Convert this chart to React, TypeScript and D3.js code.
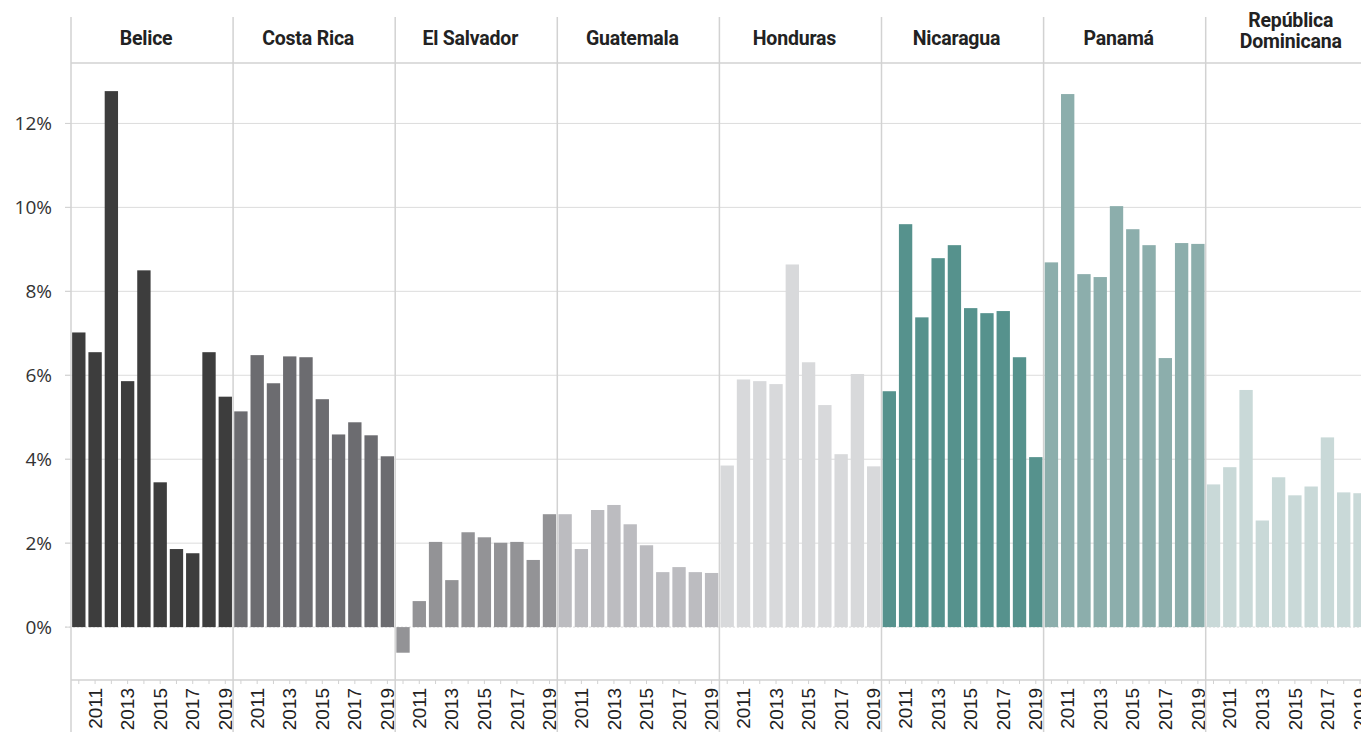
import React from "react";
import * as d3 from "d3";

const countries = ["Belice", "Costa Rica", "El Salvador", "Guatemala", "Honduras", "Nicaragua", "Panamá", "República Dominicana"];
const years = [2010, 2011, 2012, 2013, 2014, 2015, 2016, 2017, 2018, 2019];
const yearLabels = [2011, 2013, 2015, 2017, 2019];
const yTicks = [0, 2, 4, 6, 8, 10, 12];
const colors = ["#3d3d3d", "#6c6c70", "#939396", "#bcbcc0", "#d8d9db", "#56928d", "#8caeac", "#c9d9d8"];

const belice = [7.02, 6.55, 12.77, 5.86, 8.5, 3.45, 1.86, 1.76, 6.55, 5.49];
const costaRica = [5.14, 6.48, 5.81, 6.45, 6.43, 5.43, 4.59, 4.88, 4.57, 4.07];
const elSalvador = [-0.61, 0.62, 2.03, 1.12, 2.26, 2.14, 2.01, 2.03, 1.6, 2.69];
const guatemala = [2.69, 1.86, 2.79, 2.91, 2.45, 1.95, 1.31, 1.43, 1.31, 1.29];
const honduras = [3.85, 5.9, 5.86, 5.79, 8.64, 6.31, 5.29, 4.12, 6.03, 3.83];
const nicaragua = [5.62, 9.6, 7.38, 8.79, 9.1, 7.6, 7.48, 7.53, 6.43, 4.05];
const panama = [8.69, 12.7, 8.41, 8.34, 10.03, 9.48, 9.1, 6.41, 9.15, 9.13];
const repDom = [3.4, 3.81, 5.65, 2.54, 3.57, 3.14, 3.35, 4.52, 3.21, 3.19];

const series = [belice, costaRica, elSalvador, guatemala, honduras, nicaragua, panama, repDom];

const W = 1361;
const H = 732;
const left = 71;
const panelW = 162.1;
const headerTop = 17;
const plotTop = 63;
const plotBottom = 680;

export default function App() {
  const xPanel = d3.scaleBand<string>().domain(countries).range([left, left + panelW * countries.length]).padding(0);
  const xYear = d3.scaleBand<number>().domain(years).range([0, panelW]).paddingInner(0.18).paddingOuter(0.07);
  const y = d3.scaleLinear().domain([-1.26, 13.44]).range([plotBottom, plotTop]);
  const fmt = (v: number) => `${v}%`;
  const gridColor = "#dcdcdc";
  const sepColor = "#d2d2d2";

  return (
    <svg width={W} height={H} style={{ position: "absolute", left: 0, top: 0, background: "#fff" }}>
      {yTicks.map((t) => (
        <g key={t}>
          <line x1={65} x2={W} y1={y(t)} y2={y(t)} stroke={gridColor} strokeWidth={1} strokeDasharray={t === 0 ? "2,2" : undefined} />
          <text x={52} y={y(t)} dy="0.35em" textAnchor="end" fontFamily="'Open Sans', sans-serif" fontSize={19} fill="#333">{fmt(t)}</text>
        </g>
      ))}
      <line x1={left} x2={W} y1={plotTop} y2={plotTop} stroke={sepColor} strokeWidth={1.5} />
      <line x1={left} x2={W} y1={plotBottom} y2={plotBottom} stroke={sepColor} strokeWidth={1.5} />
      {countries.map((c, i) => {
        const x0 = xPanel(c)!;
        const vals = series[i];
        const words = c === "República Dominicana" ? ["República", "Dominicana"] : [c];
        return (
          <g key={c}>
            <line x1={x0} x2={x0} y1={headerTop} y2={H} stroke={sepColor} strokeWidth={1.5} />
            {words.length === 1 ? (
              <text x={x0 + panelW / 2 - 6} y={45} textAnchor="middle" fontFamily="Roboto, sans-serif" fontWeight={700} fontSize={19.5} letterSpacing={-0.2} fill="#222">{c}</text>
            ) : (
              words.map((w, k) => (
                <text key={w} x={x0 + panelW / 2 + 4} y={27 + k * 21} textAnchor="middle" fontFamily="Roboto, sans-serif" fontWeight={700} fontSize={19.5} letterSpacing={-0.2} fill="#222">{w}</text>
              ))
            )}
            {years.map((yr, j) => {
              const v = vals[j];
              const bx = x0 + xYear(yr)!;
              return (
                <rect key={yr} x={bx} width={xYear.bandwidth()} y={Math.min(y(v), y(0))} height={Math.abs(y(v) - y(0))} fill={colors[i]} />
              );
            })}
            {years.map((yr) => {
              const cx = x0 + xYear(yr)! + xYear.bandwidth() / 2;
              return <line key={"t" + yr} x1={cx} x2={cx} y1={plotBottom} y2={plotBottom + 4} stroke={sepColor} />;
            })}
            {yearLabels.map((yr) => {
              const cx = x0 + xYear(yr)! + xYear.bandwidth() / 2;
              return (
                <text key={"l" + yr} transform={`translate(${cx},${688}) rotate(-90)`} textAnchor="end" dy="0.35em" fontFamily="'Liberation Sans', Arial, sans-serif" fontSize={19} fill="#222">{yr}</text>
              );
            })}
          </g>
        );
      })}
      {yTicks.map((t) => (
        <line key={"yt" + t} x1={65} x2={left} y1={y(t)} y2={y(t)} stroke={sepColor} />
      ))}
    </svg>
  );
}
